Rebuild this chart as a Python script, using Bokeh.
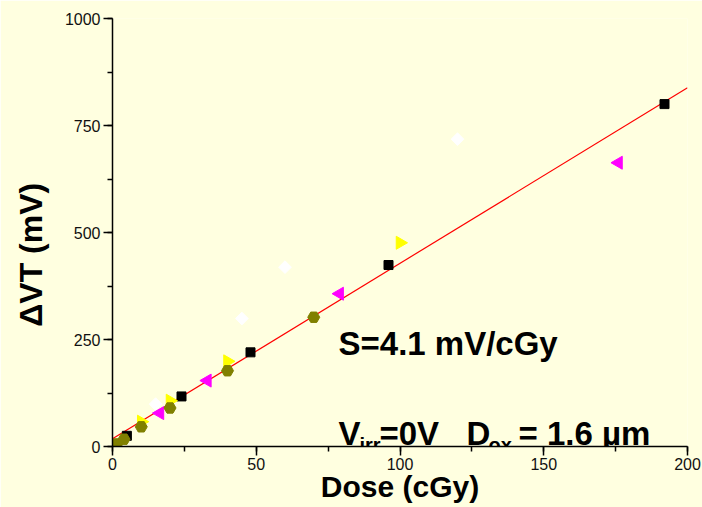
import numpy as np
from bokeh.plotting import figure
from bokeh.models import Range1d, SingleIntervalTicker, Label
from bokeh.embed import file_html
from bokeh.resources import INLINE

# ---- data ----
sq_x = [5, 24, 48, 96, 192]
sq_y = [25, 117, 220, 424, 800]

tri_r_x = [10, 20, 40, 100]
tri_r_y = [58, 107, 199, 476]

tri_l_x = [16.5, 33, 79, 176]
tri_l_y = [78, 154, 357, 663]

dia_x = [15, 45, 60, 120]
dia_y = [99, 299, 419, 718]

hex_x = [1.5, 4, 10, 20, 40, 70]
hex_y = [6, 17, 46, 90, 177, 302]

fit_x = [0, 200]
fit_y = [18, 838]

x_ticks = [0, 50, 100, 150, 200]
y_ticks = [0, 250, 500, 750, 1000]

x_title = "Dose (cGy)"
y_title = "ΔVT (mV)"

BG = "#FFFFE0"
FONT = "Liberation Sans"

p = figure(width=702, height=507, x_range=Range1d(0, 200), y_range=Range1d(0, 1000),
           output_backend="svg", toolbar_location=None,
           min_border_left=112, min_border_right=15, min_border_top=18, min_border_bottom=61)
p.background_fill_color = BG
p.border_fill_color = BG
p.outline_line_color = None
p.xgrid.visible = False
p.ygrid.visible = False

for ax, step, ticks in ((p.xaxis[0], 50, x_ticks), (p.yaxis[0], 250, y_ticks)):
    ax.ticker = SingleIntervalTicker(interval=step, num_minor_ticks=2)
    ax.axis_line_color = "black"
    ax.axis_line_width = 1.5
    ax.major_tick_line_color = "black"
    ax.major_tick_line_width = 1.5
    ax.minor_tick_line_color = "black"
    ax.minor_tick_line_width = 1.5
    ax.major_tick_in = 0
    ax.major_tick_out = 9
    ax.minor_tick_in = 0
    ax.minor_tick_out = 5
    ax.major_label_text_font = FONT
    ax.major_label_text_font_size = "16px"
    ax.major_label_text_color = "#111111"
    ax.axis_label_text_font = FONT
    ax.axis_label_text_font_style = "bold"
    ax.axis_label_text_color = "black"
p.xaxis[0].major_label_standoff = 2
p.yaxis[0].major_label_standoff = 3

p.xaxis[0].axis_label = x_title
p.xaxis[0].axis_label_text_font_size = "30px"
p.xaxis[0].axis_label_standoff = -3

# non-breaking padding shifts the rotated title down to where the reference has it
p.yaxis[0].axis_label = y_title + "\u00a0" * 5
p.yaxis[0].axis_label_text_font_size = "32px"
p.yaxis[0].axis_label_standoff = 13

# fit line
p.line(fit_x, fit_y, line_color="red", line_width=1.2)

# markers
p.scatter(dia_x, dia_y, marker="square", size=9, angle=np.pi / 4,
          fill_color="white", line_color="white")
p.scatter(sq_x, sq_y, marker="square", size=9, fill_color="black", line_color="black")
p.scatter(tri_r_x, tri_r_y, marker="triangle", size=13, angle=-np.pi / 2,
          fill_color="#FFFF00", line_color="#FFFF00")
p.scatter(tri_l_x, tri_l_y, marker="triangle", size=13, angle=np.pi / 2,
          fill_color="#FF00FF", line_color="#FF00FF")
p.scatter(hex_x, hex_y, marker="hex", size=12, fill_color="#808000", line_color="#808000")

# pixel -> data helpers for text placement
def dx(px):
    return (px - 112) / 2.875

def dy(py):
    return (446 - py) / 0.4287

def lab(px, py, txt, size, align="left", baseline="alphabetic"):
    p.add_layout(Label(x=dx(px), y=dy(py), text=txt, text_font=FONT,
                       text_font_size=size, text_font_style="bold", text_color="black",
                       text_align=align, text_baseline=baseline))

lab(338, 343, "S=4.1 mV/cGy", "33px")
lab(338, 433, "V", "33px")
lab(359, 444, "irr", "20px")
lab(379, 433, "=0V", "33px")
lab(466, 433, "D", "33px")
lab(488, 444, "ox", "20px")
lab(518, 433, "= 1.6 µm", "33px")

open("out.html", "w").write(file_html(p, INLINE))
